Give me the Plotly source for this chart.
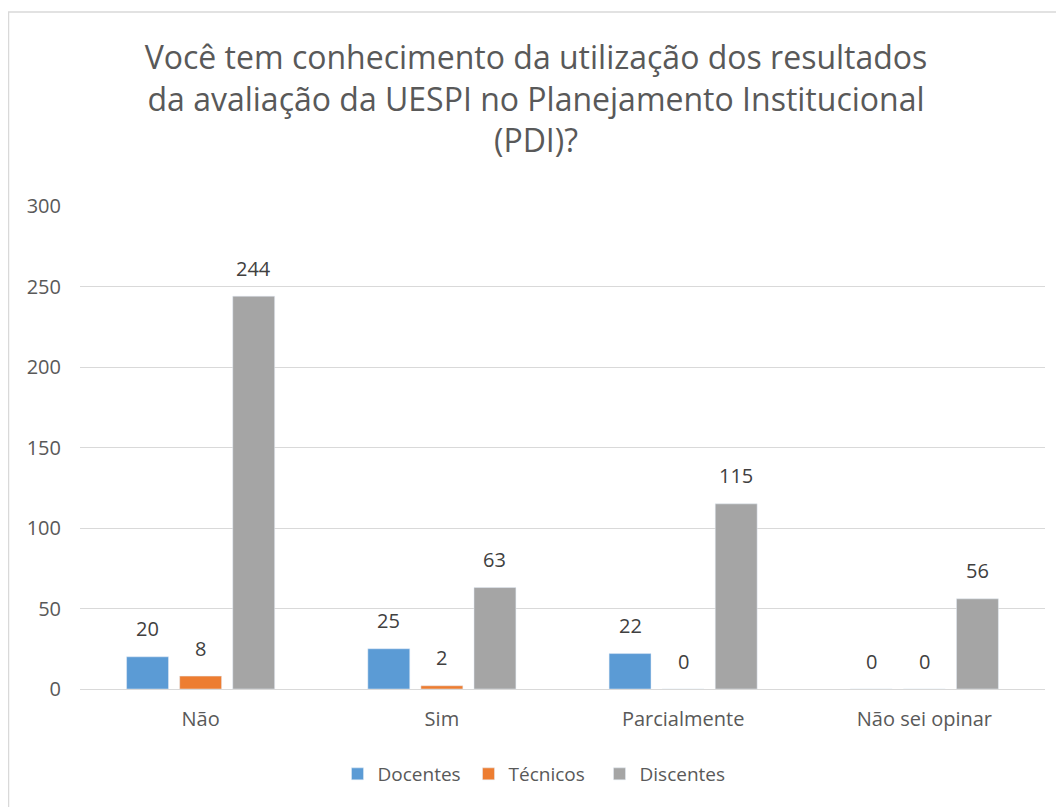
import plotly.graph_objects as go

categories = ["Não", "Sim", "Parcialmente", "Não sei opinar"]
docentes = [20, 25, 22, 0]
tecnicos = [8, 2, 0, 0]
discentes = [244, 63, 115, 56]
series_names = ["Docentes", "Técnicos", "Discentes"]
colors = ["#5B9BD5", "#ED7D31", "#A5A5A5"]
y_ticks = [0, 50, 100, 150, 200, 250, 300]

FONT = "Open Sans"
BARGAP = 0.34
GROUPGAP = 0.21
slot = (1 - BARGAP) / 3
bar_w = slot * (1 - GROUPGAP)

fig = go.Figure()
annotations = []
for i, (name, vals, c) in enumerate(zip(series_names, [docentes, tecnicos, discentes], colors)):
    off = (i - 1) * slot
    xs = [k + off for k in range(len(categories))]
    fig.add_trace(go.Bar(
        x=xs, y=vals, name=name, marker_color=c, width=bar_w,
    ))
    for x, v in zip(xs, vals):
        annotations.append(dict(
            x=x, y=v, xref="x", yref="y", text=str(v), showarrow=False,
            yanchor="middle", yshift=28,
            font=dict(family=FONT, size=20, color="#404040"),
        ))

# figure is placed at page offset (8, 8) by the body margin
W, H = 1056, 799
L, R, T, B = 72, 19, 198, 118
pw, ph = W - L - R, H - T - B

def px(x):
    return (x - L) / pw

def py(y):
    return (H - B - y) / ph

fig.update_layout(
    width=W, height=H,
    margin=dict(l=L, r=R, t=T, b=B),
    paper_bgcolor="white", plot_bgcolor="white",
    barmode="overlay",
    title=dict(
        text="Você tem conhecimento da utilização dos resultados<br>da avaliação da UESPI no Planejamento Institucional<br>(PDI)?",
        x=0.5, xanchor="center", y=1 - 61 / H, yanchor="middle",
        font=dict(family=FONT, size=32, color="#595959"),
    ),
    font=dict(family=FONT, color="#595959"),
    showlegend=True,
    legend=dict(orientation="h", x=px(526), xanchor="center", y=py(766), yanchor="middle",
                font=dict(family=FONT, size=19, color="#595959"), itemwidth=30,
                entrywidth=86, entrywidthmode="pixels", tracegroupgap=0),
    xaxis=dict(showgrid=False, showline=False, ticks="", ticklabelstandoff=16,
               range=[-0.5, len(categories) - 0.5],
               tickvals=list(range(len(categories))), ticktext=categories,
               tickfont=dict(family=FONT, size=20, color="#595959")),
    yaxis=dict(range=[0, 300], tickvals=y_ticks, showgrid=True, gridcolor="#D9D9D9",
               gridwidth=1, zeroline=True, zerolinecolor="#D9D9D9", zerolinewidth=1,
               showline=False, ticks="", ticklabelstandoff=18,
               tickfont=dict(family=FONT, size=20, color="#595959")),
    annotations=annotations,
    shapes=[dict(type="rect", xref="paper", yref="paper",
                 x0=px(0.5), x1=px(1070), y0=py(4), y1=py(812),
                 line=dict(color="#D9D9D9", width=1.5), fillcolor="rgba(0,0,0,0)", layer="below")],
)

fig.write_html("out.html")
